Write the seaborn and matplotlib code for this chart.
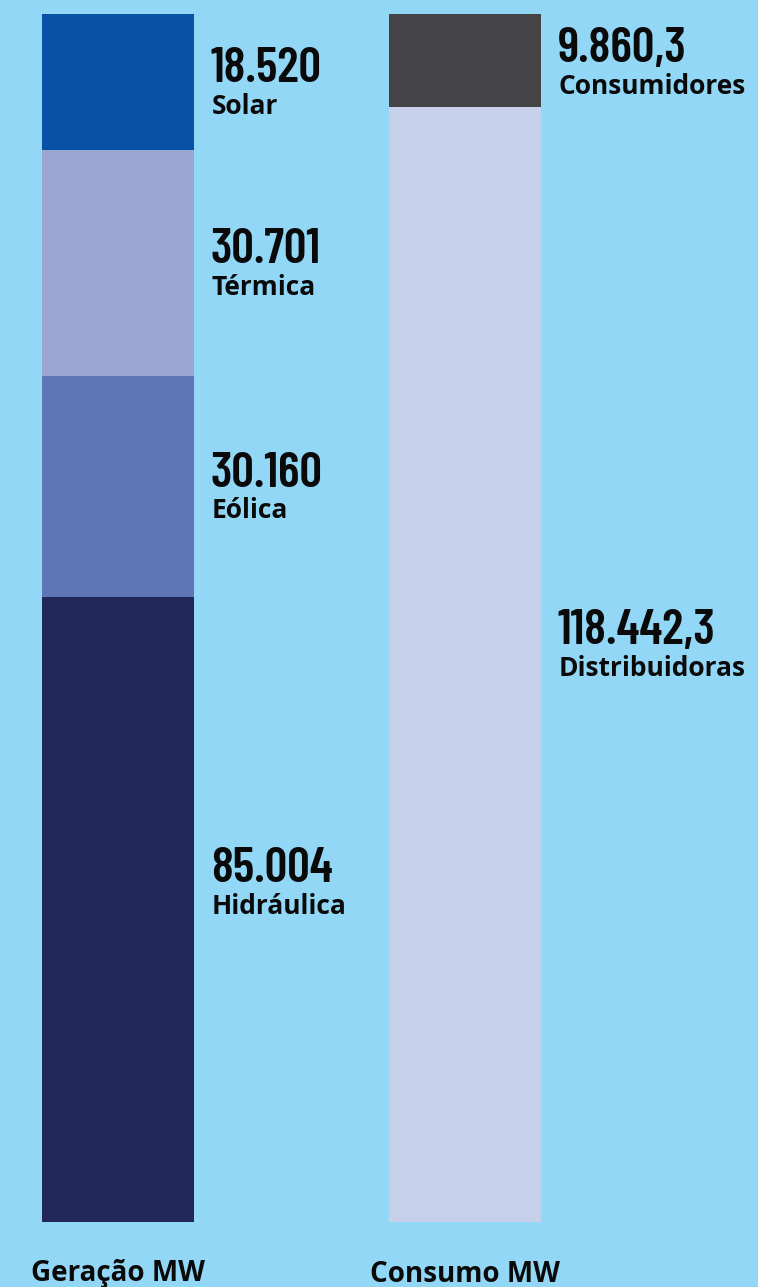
import matplotlib
matplotlib.use("Agg")
import matplotlib.pyplot as plt
import numpy as np
import pandas as pd
import seaborn as sns

# data
groups = ["Geração MW", "Consumo MW"]

gen_segments = ["Hidráulica", "Eólica", "Térmica", "Solar"]  # bottom -> top
gen_values = [85004, 30160, 30701, 18520]

cons_segments = ["Distribuidoras", "Consumidores"]
cons_values = [118442.3, 9860.3]

# styles
bg = "#92D7F6"
gen_colors = ["#22285C", "#5F75B6", "#9BA7D3", "#0852A5"]
cons_colors = ["#C6D0EB", "#444446"]
# small vertical nudges (points) for the value labels
gen_nudge = [20, 0, 0, 0]
cons_nudge = [15, -1]
num_font = ["Barlow Condensed", "DejaVu Sans"]


def br_fmt(v, dec):
  s = f"{v:,.{dec}f}"
  return s.replace(",", "X").replace(".", ",").replace("X", ".")


rows = []
for grp, segs, vals, cols, nud, dec in [
    (groups[0], gen_segments, gen_values, gen_colors, gen_nudge, 0),
    (groups[1], cons_segments, cons_values, cons_colors, cons_nudge, 1)]:
  vals = np.array(vals, dtype=float)
  share = vals / vals.sum()
  top = np.cumsum(share)
  for s, v, sh, t, c, n in zip(segs, vals, share, top, cols, nud):
    rows.append(dict(group=grp, segment=s, value=v, top=t, mid=t - sh / 2,
                     color=c, nudge=n, text=br_fmt(v, dec)))
df = pd.DataFrame(rows)

sns.set_theme(style="white", rc={"figure.facecolor": bg, "axes.facecolor": bg,
                                 "savefig.facecolor": bg})
plt.rcParams["font.family"] = ["Open Sans", "DejaVu Sans"]

fig = plt.figure(figsize=(7.58, 12.87), dpi=100)
ax = fig.add_axes([0, 65 / 1287, 1, 1208 / 1287])

bar_w = 152 / 347
# tallest first so the lower segments are painted over it
for _, r in df.sort_values("top", ascending=False).iterrows():
  sns.barplot(x=[r["group"]], y=[r["top"]], order=groups, color=r["color"],
              saturation=1, width=bar_w, errorbar=None, linewidth=0, ax=ax)

gi = {g: i for i, g in enumerate(groups)}
for _, r in df.iterrows():
  x = gi[r["group"]] + bar_w / 2
  ax.annotate(r["text"], xy=(x, r["mid"]), xytext=(12, r["nudge"]),
              textcoords="offset points", ha="left", va="baseline",
              fontsize=36, fontweight=600, color="#0a0a0a",
              family=num_font)
  ax.annotate(r["segment"], xy=(x, r["mid"]), xytext=(12.5, r["nudge"] - 23),
              textcoords="offset points", ha="left", va="baseline",
              fontsize=19, fontweight="bold", color="#0a0a0a")

ax.set_xlim(-118 / 347, 640 / 347)
ax.set_ylim(0, 1)
ax.set_xlabel("")
ax.set_ylabel("")
ax.set_yticks([])
ax.tick_params(axis="x", length=0, pad=27, labelsize=20, labelcolor="#0a0a0a")
for lab in ax.get_xticklabels():
  lab.set_fontweight("bold")
sns.despine(ax=ax, left=True, bottom=True)

plt.savefig("out.png", dpi=100, facecolor=bg)
